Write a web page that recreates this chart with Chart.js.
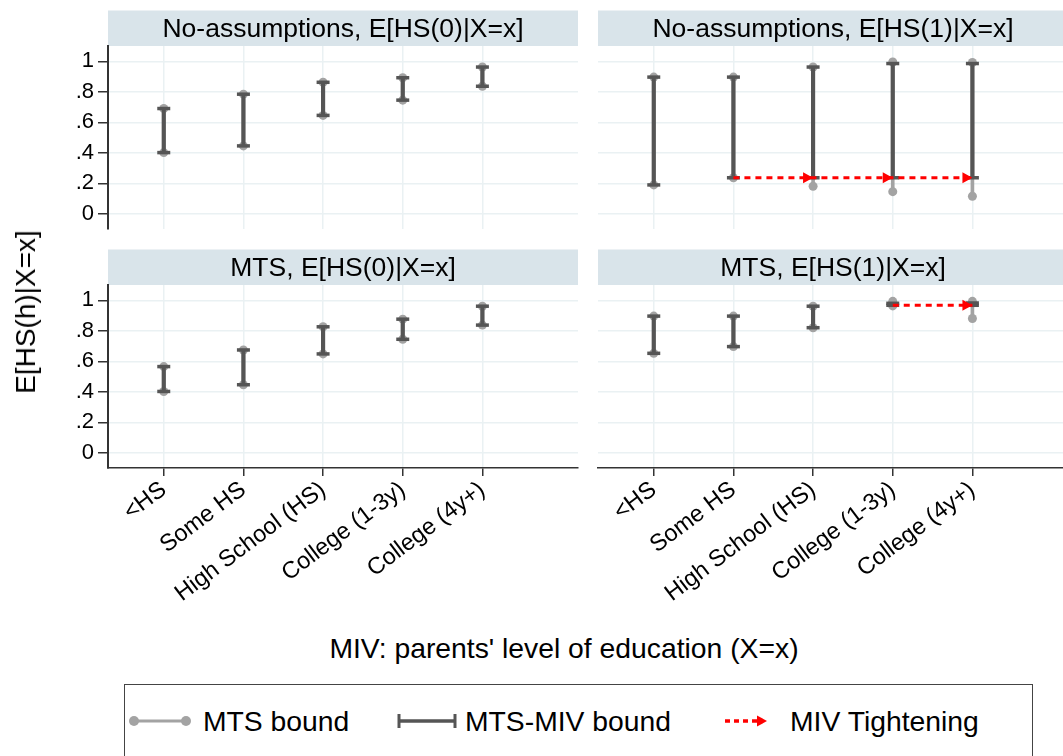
<!DOCTYPE html>
<html>
<head>
<meta charset="utf-8">
<script src="https://cdn.jsdelivr.net/npm/chart.js@4.4.1/dist/chart.umd.min.js"></script>
<style>
  html, body { margin: 0; padding: 0; background: #fff; overflow: hidden; }
  body { width: 1063px; height: 756px; position: relative; font-family: "Liberation Sans", Arial, sans-serif; color: #000; }
  canvas { position: absolute; }
  .ytitle { position: absolute; left: 26px; top: 312px; transform: translate(-50%, -50%) rotate(-90deg); font-size: 28px; white-space: nowrap; }
  .xtitle { position: absolute; left: 564px; top: 648px; transform: translate(-50%, -50%); font-size: 28.3px; white-space: nowrap; }
  .legend { position: absolute; left: 124px; top: 684px; width: 907px; height: 120px; border: 1px solid #444; }
  .legend svg { position: absolute; top: 26px; }
  .legend span { position: absolute; top: 21px; font-size: 28.3px; line-height: 30px; white-space: nowrap; }
</style>
</head>
<body>
<canvas id="tl" width="558" height="235" style="left:30px; top:0px"></canvas>
<canvas id="tr" width="490" height="235" style="left:588px; top:0px"></canvas>
<canvas id="bl" width="558" height="379" style="left:30px; top:239px"></canvas>
<canvas id="br" width="490" height="379" style="left:588px; top:239px"></canvas>

<div class="ytitle">E[HS(h)|X=x]</div>
<div class="xtitle">MIV: parents' level of education (X=x)</div>

<div class="legend">
  <svg style="left:2px" width="66" height="20">
    <line x1="7" y1="10" x2="59" y2="10" stroke="#a3a3a3" stroke-width="3"/>
    <circle cx="7" cy="10" r="5" fill="#a3a3a3"/>
    <circle cx="59" cy="10" r="5" fill="#a3a3a3"/>
  </svg>
  <span style="left:78px">MTS bound</span>
  <svg style="left:271px" width="62" height="20">
    <line x1="3" y1="10" x2="59" y2="10" stroke="#555" stroke-width="3.5"/>
    <line x1="3" y1="3" x2="3" y2="17" stroke="#555" stroke-width="3"/>
    <line x1="59" y1="3" x2="59" y2="17" stroke="#555" stroke-width="3"/>
  </svg>
  <span style="left:340px">MTS-MIV bound</span>
  <svg style="left:598px" width="48" height="20">
    <line x1="2" y1="10" x2="34" y2="10" stroke="#ff0000" stroke-width="3.5" stroke-dasharray="5 4"/>
    <polygon points="34,4.5 44,10 34,15.5" fill="#ff0000"/>
  </svg>
  <span style="left:665px">MIV Tightening</span>
</div>

<script>
// parents' education categories, placed at 1..5 on the x axis
const categories = ['<HS', 'Some HS', 'High School (HS)', 'College (1-3y)', 'College (4y+)'];
const catPos = [1, 2, 3, 4, 5];
const yTicks = [0, 0.2, 0.4, 0.6, 0.8, 1];
const yTickLabels = ['0', '.2', '.4', '.6', '.8', '1'];

// No-assumptions, E[HS(0)|X=x]
const na0MtsLo = [0.401, 0.445, 0.645, 0.745, 0.836];
const na0MtsHi = [0.690, 0.784, 0.862, 0.892, 0.962];
const na0MivLo = [0.401, 0.445, 0.645, 0.745, 0.836];
const na0MivHi = [0.690, 0.784, 0.862, 0.892, 0.962];
const na0Tighten = [null, null, null, null, null];

// No-assumptions, E[HS(1)|X=x]
const na1MtsLo = [0.189, 0.236, 0.180, 0.145, 0.115];
const na1MtsHi = [0.896, 0.896, 0.962, 0.995, 0.992];
const na1MivLo = [0.189, 0.236, 0.236, 0.236, 0.236];
const na1MivHi = [0.896, 0.896, 0.962, 0.985, 0.985];
const na1Tighten = [null, 0.236, 0.236, 0.236, 0.236];

// MTS, E[HS(0)|X=x]
const mts0MtsLo = [0.402, 0.446, 0.648, 0.744, 0.837];
const mts0MtsHi = [0.565, 0.674, 0.826, 0.876, 0.961];
const mts0MivLo = [0.402, 0.446, 0.648, 0.744, 0.837];
const mts0MivHi = [0.565, 0.674, 0.826, 0.876, 0.961];
const mts0Tighten = [null, null, null, null, null];

// MTS, E[HS(1)|X=x]
const mts1MtsLo = [0.652, 0.696, 0.820, 0.963, 0.880];
const mts1MtsHi = [0.896, 0.896, 0.961, 0.993, 0.993];
const mts1MivLo = [0.652, 0.696, 0.820, 0.967, 0.967];
const mts1MivHi = [0.896, 0.896, 0.961, 0.980, 0.982];
const mts1Tighten = [null, null, null, 0.967, 0.967];

Chart.defaults.font.family = '"Liberation Sans", Arial, sans-serif';
Chart.defaults.color = '#000';

const STRIP_H = 35.5;

// shaded title strip above each panel
const stripPlugin = {
  id: 'strip',
  beforeDraw(chart, args, opts) {
    const { ctx, chartArea: a } = chart;
    ctx.save();
    ctx.fillStyle = '#d9e4ea';
    ctx.fillRect(a.left, a.top - STRIP_H, a.right - a.left, STRIP_H);
    ctx.fillStyle = '#000';
    ctx.font = '26.5px "Liberation Sans", Arial, sans-serif';
    ctx.textAlign = 'center';
    ctx.textBaseline = 'middle';
    ctx.fillText(opts.text, (a.left + a.right) / 2, a.top - STRIP_H / 2 + 1);
    ctx.restore();
  }
};

// arrowheads at the end of each tightening step
const arrowHeads = {
  id: 'arrowHeads',
  afterDatasetsDraw(chart) {
    const ctx = chart.ctx;
    chart.data.datasets.forEach((ds, di) => {
      if (!ds.arrow) return;
      const meta = chart.getDatasetMeta(di);
      let first = true;
      meta.data.forEach((pt, i) => {
        if (ds.data[i].y == null) return;
        if (first) { first = false; return; }
        ctx.save();
        ctx.fillStyle = ds.borderColor;
        ctx.beginPath();
        ctx.moveTo(pt.x, pt.y);
        ctx.lineTo(pt.x - 10, pt.y - 5.5);
        ctx.lineTo(pt.x - 10, pt.y + 5.5);
        ctx.closePath();
        ctx.fill();
        ctx.restore();
      });
    });
  }
};

function makeChart(id, title, mtsLo, mtsHi, mivLo, mivHi, tighten, showY, showX) {
  const pts = vals => catPos.map((x, i) => ({ x: x, y: vals[i] }));
  const ranges = (lo, hi) => catPos.map((x, i) => ({ x: x, y: [lo[i], hi[i]] }));

  new Chart(document.getElementById(id), {
    type: 'bar',
    data: {
      datasets: [
        { type: 'bar', data: ranges(mtsLo, mtsHi), backgroundColor: '#a3a3a3',
          barThickness: 3, grouped: false, order: 6 },
        { type: 'line', data: pts(mtsLo).concat(pts(mtsHi)), showLine: false,
          pointRadius: 4.5, pointBackgroundColor: '#a3a3a3', pointBorderWidth: 0, order: 5 },
        { type: 'bar', data: ranges(mivLo, mivHi), backgroundColor: '#555555',
          barThickness: 3.5, grouped: false, order: 4 },
        { type: 'line', data: pts(mivLo).concat(pts(mivHi)), showLine: false,
          pointStyle: 'line', pointRadius: 6.5, pointBorderWidth: 3.5, pointBorderColor: '#555555', order: 3 },
        { type: 'line', data: pts(tighten), borderColor: '#ff0000', borderWidth: 3,
          borderDash: [6, 5], pointRadius: 0, spanGaps: false, order: 1, arrow: true }
      ]
    },
    options: {
      responsive: false,
      animation: false,
      devicePixelRatio: 1,
      layout: { autoPadding: false, padding: { top: 46, right: 10, bottom: showX ? 0 : 6, left: 0 } },
      plugins: {
        legend: { display: false },
        tooltip: { enabled: false },
        strip: { text: title }
      },
      scales: {
        x: {
          type: 'linear', min: 0.3, max: 6.2, offset: false,
          afterBuildTicks: s => { s.ticks = catPos.map(v => ({ value: v })); },
          afterFit: s => {
            s.height = showX ? 150 : 0;
            s.paddingLeft = 0; s.paddingRight = 0; s.paddingTop = 0; s.paddingBottom = 0;
          },
          grid: { color: '#eaf1f3', lineWidth: 1.5, offset: false, drawTicks: showX,
                  tickLength: 8, tickColor: '#333', tickWidth: 1.5 },
          border: { display: showX, color: '#333', width: 1.5 },
          ticks: { display: showX, autoSkip: false, minRotation: 37, maxRotation: 37, padding: 0,
                   font: { size: 23.5 }, color: '#000', callback: (v, i) => categories[i] }
        },
        y: {
          min: -0.1, max: 1.1,
          afterBuildTicks: s => { s.ticks = yTicks.map(v => ({ value: v })); },
          afterFit: s => {
            s.width = showY ? 78 : 10;
            s.paddingLeft = 0; s.paddingRight = 0; s.paddingTop = 0; s.paddingBottom = 0;
          },
          grid: { color: '#eaf1f3', lineWidth: 1.5, drawTicks: showY,
                  tickLength: 10, tickColor: '#333', tickWidth: 1.5 },
          border: { display: showY, color: '#333', width: 2 },
          ticks: { display: showY, padding: 4, font: { size: 22 }, color: '#000',
                   callback: (v, i) => yTickLabels[i] }
        }
      }
    },
    plugins: [stripPlugin, arrowHeads]
  });
}

makeChart('tl', 'No-assumptions, E[HS(0)|X=x]', na0MtsLo, na0MtsHi, na0MivLo, na0MivHi, na0Tighten, true, false);
makeChart('tr', 'No-assumptions, E[HS(1)|X=x]', na1MtsLo, na1MtsHi, na1MivLo, na1MivHi, na1Tighten, false, false);
makeChart('bl', 'MTS, E[HS(0)|X=x]', mts0MtsLo, mts0MtsHi, mts0MivLo, mts0MivHi, mts0Tighten, true, true);
makeChart('br', 'MTS, E[HS(1)|X=x]', mts1MtsLo, mts1MtsHi, mts1MivLo, mts1MivHi, mts1Tighten, false, true);
</script>
</body>
</html>
